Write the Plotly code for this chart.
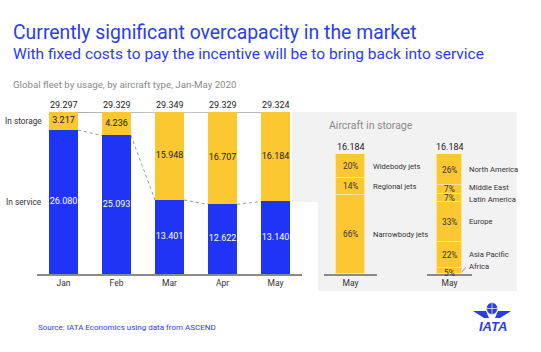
import plotly.graph_objects as go

# ---------------- data ----------------
months = ["Jan", "Feb", "Mar", "Apr", "May"]
in_service = [26080, 25093, 13401, 12622, 13140]
in_storage = [3217, 4236, 15948, 16707, 16184]
totals = [29297, 29329, 29349, 29329, 29324]

type_labels = ["Narrowbody jets", "Regional jets", "Widebody jets"]   # bottom -> top
type_share = [66, 14, 20]

region_labels = ["Africa", "Asia Pacific", "Europe", "Latin America", "Middle East", "North America"]  # bottom -> top
region_share = [5, 22, 33, 7, 7, 26]

storage_total_may = 16184

BLUE = "#2034f5"
YELLOW = "#fbc832"
TITLE_BLUE = "#2a3cf0"
GRAY_TXT = "#8a8a8a"
FONT = "Roboto"

W, H = 541, 352
def px(x): return x / W
def py(y): return 1 - y / H

def fmt(v):
    return f"{v:,}".replace(",", ".")

fig = go.Figure()

# ---------------- main stacked bars ----------------
xs = list(range(len(months)))
bw = 0.547
fig.add_trace(go.Bar(x=xs, y=in_service, width=bw, marker=dict(color=BLUE, line=dict(width=0)),
                     xaxis="x", yaxis="y", hoverinfo="skip", showlegend=False))
fig.add_trace(go.Bar(x=xs, y=in_storage, width=bw, marker=dict(color=YELLOW, line=dict(width=0)),
                     xaxis="x", yaxis="y", hoverinfo="skip", showlegend=False))

# value labels
fig.add_trace(go.Scatter(x=xs, y=[s / 2 for s in in_service], mode="text",
                         text=[fmt(v) for v in in_service],
                         textfont=dict(family=FONT, size=9, color="white"),
                         xaxis="x", yaxis="y", hoverinfo="skip", showlegend=False))
fig.add_trace(go.Scatter(x=xs, y=[s + t / 2 for s, t in zip(in_service, in_storage)], mode="text",
                         text=[fmt(v) for v in in_storage],
                         textfont=dict(family=FONT, size=9, color="#222"),
                         xaxis="x", yaxis="y", hoverinfo="skip", showlegend=False))

# connector lines
for i in range(len(months) - 1):
    fig.add_trace(go.Scatter(x=[xs[i] + bw / 2, xs[i + 1] - bw / 2], y=[in_service[i], in_service[i + 1]],
                             mode="lines", line=dict(color="#9a9a9a", width=1, dash="dot"),
                             xaxis="x", yaxis="y", hoverinfo="skip", showlegend=False))
    fig.add_trace(go.Scatter(x=[xs[i] + bw / 2, xs[i + 1] - bw / 2], y=[totals[i], totals[i + 1]],
                             mode="lines", line=dict(color="#8f8f8f", width=1),
                             xaxis="x", yaxis="y", hoverinfo="skip", showlegend=False, cliponaxis=False))

annotations = []
for i, t in enumerate(totals):
    annotations.append(dict(x=xs[i], y=t, xref="x", yref="y", text=fmt(t), showarrow=False,
                            yanchor="bottom", yshift=0,
                            font=dict(family=FONT, size=9, color="#222")))

# y labels
annotations.append(dict(x=px(44), y=in_service[0] + in_storage[0] / 2, xref="paper", yref="y",
                        text="In storage", showarrow=False, xanchor="right",
                        font=dict(family=FONT, size=8.3, color="#333")))
annotations.append(dict(x=px(44), y=in_service[0] / 2, xref="paper", yref="y",
                        text="In service", showarrow=False, xanchor="right",
                        font=dict(family=FONT, size=8.3, color="#333")))

# ---------------- right panel: aircraft type ----------------
cum = 0
for lab, v in zip(type_labels, type_share):
    fig.add_trace(go.Bar(x=[0], y=[v], width=0.547, marker=dict(color=YELLOW, line=dict(color="#fde3a0", width=1)),
                         xaxis="x2", yaxis="y2", hoverinfo="skip", showlegend=False))
    annotations.append(dict(x=0, y=cum + v / 2, xref="x2", yref="y2", text=f"{v}%", showarrow=False,
                            font=dict(family=FONT, size=8.3, color="#333")))
    annotations.append(dict(x=px(371), y=cum + v / 2, xref="paper", yref="y2", text=lab, showarrow=False,
                            xanchor="left", font=dict(family=FONT, size=7.6, color="#333")))
    cum += v
annotations.append(dict(x=0, y=cum, xref="x2", yref="y2", text=fmt(storage_total_may), showarrow=False,
                        yanchor="bottom", font=dict(family=FONT, size=9, color="#222")))

# ---------------- right panel: region ----------------
label_shift = {"Africa": 5, "Middle East": 2, "Latin America": -1.5}
cum = 0
for lab, v in zip(region_labels, region_share):
    fig.add_trace(go.Bar(x=[0], y=[v], width=0.556, marker=dict(color=YELLOW, line=dict(color="#fde3a0", width=1)),
                         xaxis="x3", yaxis="y3", hoverinfo="skip", showlegend=False))
    inner_shift = -1.5 if lab == "Africa" else 0
    annotations.append(dict(x=0, y=cum + v / 2, xref="x3", yref="y3", text=f"{v}%", showarrow=False,
                            yshift=inner_shift,
                            font=dict(family=FONT, size=8.3, color="#333")))
    annotations.append(dict(x=px(467), y=cum + v / 2, xref="paper", yref="y3", text=lab, showarrow=False,
                            yshift=label_shift.get(lab, 0),
                            xanchor="left", font=dict(family=FONT, size=7.6, color="#333")))
    cum += v
annotations.append(dict(x=0, y=cum, xref="x3", yref="y3", text=fmt(storage_total_may), showarrow=False,
                        yanchor="bottom", font=dict(family=FONT, size=9, color="#222")))

# ---------------- titles & texts ----------------
annotations += [
    dict(x=px(11), y=py(32), xref="paper", yref="paper", text="Currently significant overcapacity in the market",
         showarrow=False, xanchor="left", yanchor="middle", font=dict(family=FONT, size=19.4, color=TITLE_BLUE)),
    dict(x=px(11), y=py(54), xref="paper", yref="paper",
         text="With fixed costs to pay the incentive will be to bring back into service",
         showarrow=False, xanchor="left", yanchor="middle", font=dict(family=FONT, size=15.5, color=TITLE_BLUE)),
    dict(x=px(11), y=py(84), xref="paper", yref="paper", text="Global fleet by usage, by aircraft type, Jan-May 2020",
         showarrow=False, xanchor="left", yanchor="middle", font=dict(family=FONT, size=9.7, color=GRAY_TXT)),
    dict(x=px(327), y=py(125), xref="paper", yref="paper", text="Aircraft in storage",
         showarrow=False, xanchor="left", yanchor="middle", font=dict(family=FONT, size=10.5, color=GRAY_TXT)),
    dict(x=px(36), y=py(327), xref="paper", yref="paper", text="Source: IATA Economics using data from ASCEND",
         showarrow=False, xanchor="left", yanchor="middle", font=dict(family=FONT, size=8, color=TITLE_BLUE)),
    dict(x=px(493), y=py(326), xref="paper", yref="paper", text="<b><i>IATA</i></b>",
         showarrow=False, xanchor="center", yanchor="middle", font=dict(family="Liberation Sans", size=13, color=TITLE_BLUE)),
]

# ---------------- shapes ----------------
def P(x, y): return f"{px(x):.5f},{py(y):.5f}"
shapes = [
    dict(type="path", xref="paper", yref="paper", layer="below",
         path=f"M{P(292,112)} L{P(517,112)} L{P(517,291)} L{P(318,291)} L{P(318,202)} L{P(292,202)} Z",
         fillcolor="#f2f2f2", line=dict(width=0)),
    # Africa leader line
    dict(type="line", xref="paper", yref="paper", x0=px(462), y0=py(272), x1=px(466), y1=py(267),
         line=dict(color="#888", width=0.8)),
    # IATA logo globe
    dict(type="circle", xref="paper", yref="paper", x0=px(487), y0=py(303), x1=px(497), y1=py(314),
         fillcolor=TITLE_BLUE, line=dict(color=TITLE_BLUE, width=0.5)),
    dict(type="line", xref="paper", yref="paper", x0=px(487), y0=py(308.5), x1=px(497), y1=py(308.5),
         line=dict(color="white", width=0.7)),
    dict(type="line", xref="paper", yref="paper", x0=px(492), y0=py(303), x1=px(492), y1=py(314),
         line=dict(color="white", width=0.7)),
    dict(type="path", xref="paper", yref="paper",
         path=f"M{P(473,311)} L{P(486,311)} L{P(489,318)} L{P(484,318)} Z",
         fillcolor=TITLE_BLUE, line=dict(width=0)),
    dict(type="path", xref="paper", yref="paper",
         path=f"M{P(511,311)} L{P(498,311)} L{P(495,318)} L{P(500,318)} Z",
         fillcolor=TITLE_BLUE, line=dict(width=0)),
]

axis_common = dict(showgrid=False, zeroline=False, fixedrange=True)
fig.update_layout(
    width=W, height=H, margin=dict(l=0, r=0, t=0, b=0),
    paper_bgcolor="white", plot_bgcolor="rgba(0,0,0,0)",
    barmode="stack", bargap=0,
    showlegend=False,
    xaxis=dict(domain=[px(37), px(302)], range=[-0.5, 4.5], tickmode="array", tickvals=xs, ticktext=months,
               showline=True, linecolor="#8a8a8a", linewidth=1.5, ticks="",
               tickfont=dict(family=FONT, size=8.5, color="#333"), anchor="y", **axis_common),
    yaxis=dict(domain=[py(274), py(112)], range=[0, max(totals)], showticklabels=False, ticks="",
               anchor="x", **axis_common),
    xaxis2=dict(domain=[px(324), px(377)], range=[-0.5, 0.5], tickmode="array", tickvals=[0], ticktext=["May"],
                showline=True, linecolor="#8a8a8a", linewidth=1.5, ticks="",
                tickfont=dict(family=FONT, size=8.5, color="#333"), anchor="y2", **axis_common),
    yaxis2=dict(domain=[py(274), py(154)], range=[0, 100], showticklabels=False, ticks="",
                anchor="x2", **axis_common),
    xaxis3=dict(domain=[px(427), px(472)], range=[-0.5, 0.5], tickmode="array", tickvals=[0], ticktext=["May"],
                showline=True, linecolor="#8a8a8a", linewidth=1.5, ticks="",
                tickfont=dict(family=FONT, size=8.5, color="#333"), anchor="y3", **axis_common),
    yaxis3=dict(domain=[py(274), py(154)], range=[0, 100], showticklabels=False, ticks="",
                anchor="x3", **axis_common),
    annotations=annotations,
    shapes=shapes,
)

fig.write_html("out.html")
